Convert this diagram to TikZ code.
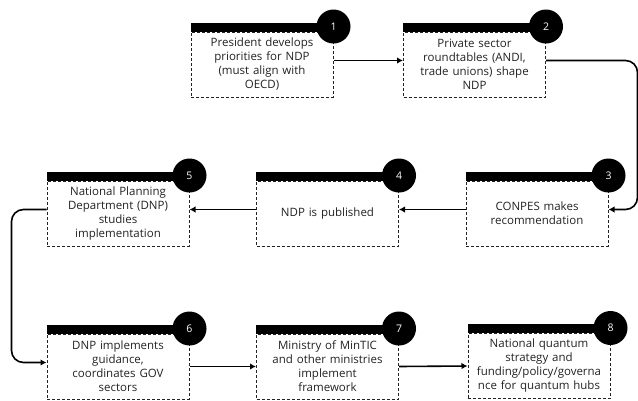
\documentclass[tikz,border=0pt]{standalone}
\usepackage{fontspec}
\setmainfont{Open Sans}
\usetikzlibrary{arrows.meta}

\definecolor{inkgray}{HTML}{222222}

\begin{document}
\begin{tikzpicture}[
    x=1pt, y=-1pt,
    >={Latex[length=6pt,width=6.5pt]},
    stepbox/.style={draw=inkgray, dash pattern=on 3pt off 2pt, line width=1pt, minimum width=142pt, minimum height=65pt, text width=140pt, align=center, inner sep=0pt, text=inkgray, font=\fontsize{11.5}{14}\selectfont},
    num_badge/.style={circle, fill=black, text=white, minimum size=34pt, inner sep=0pt, font=\fontsize{10.5}{12}\selectfont},
    flow/.style={->, line width=1.6pt, rounded corners=12pt}
]
    \useasboundingbox (0,0) rectangle (638,400);
    \def\barH{9pt} 
    \def\lift{4pt} 
    % top row
    \node[stepbox] (s1) at (262,64.5) {President develops\\priorities for NDP\\(must align with\\OECD)};
    \node[stepbox] (s2) at (474.5,64.5) {Private sector\\roundtables (ANDI,\\trade unions) shape\\NDP};
    % middle row, right to left
    \node[stepbox] (s3) at (537,213.5) {CONPES makes\\recommendation};
    \node[stepbox] (s4) at (327.5,213.5) {NDP is published};
    \node[stepbox] (s5) at (118,213.5) {National Planning\\Department (DNP)\\studies\\implementation};
    % bottom row
    \node[stepbox] (s6) at (118,366.5) {DNP implements\\guidance,\\coordinates GOV\\sectors};
    \node[stepbox] (s7) at (327.5,366.5) {Ministry of MinTIC\\and other ministries\\implement\\framework};
    \node[stepbox] (s8) at (539,366) {National quantum\\strategy and\\funding/policy/governa\\nce for quantum hubs};
    % header bars and numbers
    \foreach \i in {1,...,8} {
        \fill (s\i.north west) rectangle ([yshift=\barH]s\i.north east);
        \node[num_badge] (n\i) at ([yshift=5pt]s\i.north east) {\i};
    }
    % connectors
    \draw[flow] ([yshift=\lift]s1.east) -- ([yshift=\lift]s2.west);
    \draw[flow] ([yshift=\lift]s2.east) -| ([xshift=29pt,yshift=\lift]s3.east) -- ([yshift=\lift]s3.east);
    \draw[flow] ([yshift=\lift]s3.west) -- ([yshift=\lift]s4.east);
    \draw[flow] ([yshift=\lift]s4.west) -- ([yshift=\lift]s5.east);
    \draw[flow] ([yshift=\lift]s5.west) -| ([xshift=-35pt,yshift=\lift]s6.west) -- ([yshift=\lift]s6.west);
    \draw[flow] (s6.east) -- (s7.west);
    \draw[flow] (s7.east) -- (s8.west);

\end{tikzpicture}
\end{document}
